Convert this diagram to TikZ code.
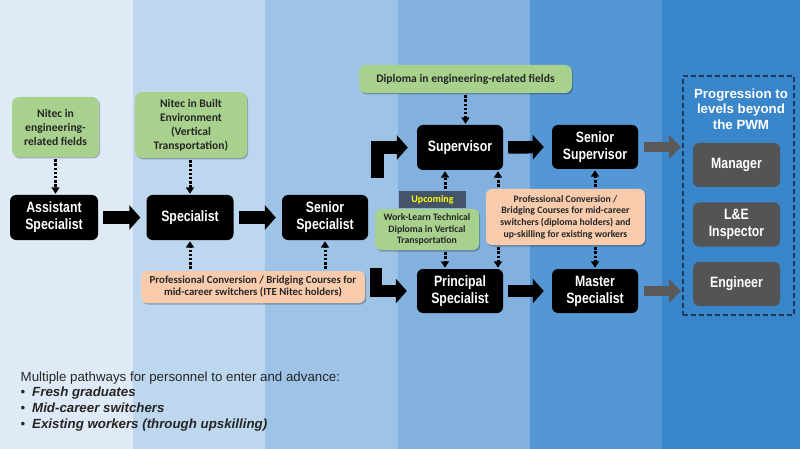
\documentclass[tikz,border=0pt]{standalone}
\usepackage{fontspec}
\setmainfont{Liberation Sans}
\newfontfamily\narrowfont[FakeStretch=0.82]{Liberation Sans}
\newfontfamily\calfont{Carlito}
\usetikzlibrary{arrows.meta,shadows,calc}
\definecolor{colA}{HTML}{DEEAF6}
\definecolor{colB}{HTML}{BDD7EE}
\definecolor{colC}{HTML}{9DC3E6}
\definecolor{colD}{HTML}{82B1E0}
\definecolor{colE}{HTML}{5597D4}
\definecolor{colF}{HTML}{3A86CB}
\definecolor{grnbox}{HTML}{A9D18E}
\definecolor{pchbox}{HTML}{F8CBAD}
\definecolor{gryarrow}{HTML}{595959}
\definecolor{grybox}{HTML}{545454}
\definecolor{upbox}{HTML}{44546A}
\definecolor{navyline}{HTML}{1F3864}
\definecolor{txtdark}{HTML}{262626}
\definecolor{upyellow}{HTML}{FFFF00}
\tikzset{
  softshadow/.style={drop shadow={shadow xshift=1.2pt, shadow yshift=-1.5pt, opacity=0.25, fill=black}},
  blackbox/.style={fill=black, rounded corners=6pt, text=white,
    font={\narrowfont\bfseries\fontsize{15}{17}\selectfont}, align=center,
    minimum width=86pt, minimum height=45pt, inner sep=0pt},
  graybox/.style={blackbox, fill=grybox, minimum width=87pt, minimum height=44pt},
  greenbox/.style={fill=grnbox, rounded corners=7pt, text=txtdark,
    font={\calfont\bfseries\fontsize{11.6}{14}\selectfont}, align=center,
    inner sep=0pt, softshadow},
  peachbox/.style={greenbox, fill=pchbox, rounded corners=6pt,
    font={\calfont\bfseries\fontsize{9.8}{11.7}\selectfont}},
  blockarrow/.style={draw=black, line width=12.5pt, line join=miter,
    -{Triangle[width=24pt,length=11pt]}},
  grayarrow/.style={draw=gryarrow, line width=10pt,
    -{Triangle[width=23pt,length=12pt]}},
  dotarrow/.style={draw=black, line width=3pt, dash pattern=on 2.4pt off 1.8pt,
    -{Triangle[width=8pt,length=6.5pt]}, shorten <=2pt, shorten >=1pt},
}
\begin{document}
\begin{tikzpicture}[x=1pt,y=-1pt]
\useasboundingbox (0,0) rectangle (800,449);
% background columns
\fill[colA] (0,0) rectangle (133,449);
\fill[colB] (133,0) rectangle (265,449);
\fill[colC] (265,0) rectangle (398,449);
\fill[colD] (398,0) rectangle (530,449);
\fill[colE] (530,0) rectangle (662,449);
\fill[colF] (662,0) rectangle (800,449);

% entry qualifications
\node[greenbox, minimum width=87pt, minimum height=60pt] (g1) at (55.5,127) {Nitec in\\engineering-\\related fields};
\node[greenbox, minimum width=112pt, minimum height=66pt] (g2) at (191,125) {Nitec in Built\\Environment\\(Vertical\\Transportation)};
\node[greenbox, minimum width=213pt, minimum height=28pt] (dip) at (465.5,79) {Diploma in engineering-related fields};

% job roles
\node[blackbox, minimum width=88pt] (as) at (54,217.5) {Assistant\\Specialist};
\node[blackbox, minimum width=87pt] (sp) at (190,217.5) {Specialist};
\node[blackbox] (ss) at (325,217.5) {Senior\\Specialist};
\node[blackbox] (sup) at (460,147.5) {Supervisor};
\node[blackbox, minimum height=44pt] (ssup) at (595,147) {Senior\\Supervisor};
\node[blackbox, minimum height=44pt] (pr) at (460,291) {Principal\\Specialist};
\node[blackbox, minimum height=44pt] (ms) at (595,291) {Master\\Specialist};

% bridging courses
\node[peachbox, minimum width=224pt, minimum height=32pt,
  font={\calfont\bfseries\fontsize{10.8}{12}\selectfont}] (p1) at (253,287) {Professional Conversion / Bridging Courses for\\mid-career switchers (ITE Nitec holders)};
\node[peachbox, minimum width=159pt, minimum height=56pt] (p2) at (565.5,217) {Professional Conversion /\\Bridging Courses for mid-career\\switchers (diploma holders) and\\up-skilling for existing workers};

% upcoming diploma
\node[fill=upbox, minimum width=67pt, minimum height=17pt, inner sep=0pt, text=upyellow,
  font={\calfont\bfseries\fontsize{10}{12}\selectfont}] (up) at (432.5,199.5) {Upcoming};
\node[greenbox, minimum width=104pt, minimum height=41pt, rounded corners=6pt,
  font={\calfont\bfseries\fontsize{9.8}{11.7}\selectfont}] (wl) at (427,229.5) {Work-Learn Technical\\Diploma in Vertical\\Transportation};

% beyond PWM
\node[draw=navyline, line width=2pt, dash pattern=on 5pt off 3pt, minimum width=111pt,
  minimum height=239pt, inner sep=0pt] (dbox) at (738.5,195.5) {};
\node[text=white, align=center, font={\bfseries\fontsize{13.3}{15.5}\selectfont}] (prog) at (741,109) {Progression to\\levels beyond\\the PWM};
\node[graybox] (mgr) at (736.5,165) {Manager};
\node[graybox] (le) at (736.5,224.5) {L\&E\\Inspector};
\node[graybox] (eng) at (736.5,284) {Engineer};

% block arrows
\draw[blockarrow, shorten <=5pt, shorten >=6pt] (as.east) -- (sp.west);
\draw[blockarrow, shorten <=5pt, shorten >=6pt] (sp.east) -- (ss.west);
\draw[blockarrow, shorten <=5pt, shorten >=8pt] (sup.east) -- (ssup.west);
\draw[blockarrow, shorten <=5pt, shorten >=8pt] (pr.east) -- (ms.west);
\coordinate (b1) at (377.5,178);
\coordinate (b2) at (376,268);
\draw[blockarrow, shorten >=9pt] (b1) |- (sup.west);
\draw[blockarrow, shorten >=10pt] (b2) |- (pr.west);

% gray arrows
\draw[grayarrow, shorten <=6pt, shorten >=1pt] (ssup.east) -- (ssup.east -| dbox.west);
\draw[grayarrow, shorten <=6pt, shorten >=1pt] (ms.east) -- (ms.east -| dbox.west);

% dotted arrows
\draw[dotarrow] (g1.south) -- (g1.south |- as.north);
\draw[dotarrow] (sp.north |- g2.south) -- (sp.north);
\draw[dotarrow] (sp.south |- p1.north) -- (sp.south);
\draw[dotarrow] (ss.south |- p1.north) -- (ss.south);
\draw[dotarrow] (dip.south) -- (dip.south |- sup.north);
\draw[dotarrow] ([xshift=12.5pt]up.north) -- ([xshift=12.5pt]up.north |- sup.south);
\draw[dotarrow] ([xshift=18pt]wl.south) -- ([xshift=18pt]wl.south |- pr.north);
\draw[dotarrow] ([xshift=-67.5pt]p2.north) -- ([xshift=-67.5pt]p2.north |- sup.south);
\draw[dotarrow] ([xshift=-67.5pt]p2.south) -- ([xshift=-67.5pt]p2.south |- pr.north);
\draw[dotarrow] (ssup.south |- p2.north) -- (ssup.south);
\draw[dotarrow] (ms.north |- p2.south) -- (ms.north);

% bottom note (base anchor = baseline of the last line)
\node[anchor=base west, align=left, inner sep=0pt, text=txtdark,
  font={\fontsize{13.3}{15.6}\selectfont}] (note) at (20.5,428)
  {Multiple pathways for personnel to enter and advance:\\
   \makebox[11.5pt][l]{•}\textbf{\textit{Fresh graduates}}\\
   \makebox[11.5pt][l]{•}\textbf{\textit{Mid-career switchers}}\\
   \makebox[11.5pt][l]{•}\textbf{\textit{Existing workers (through upskilling)}}};
\end{tikzpicture}
\end{document}
